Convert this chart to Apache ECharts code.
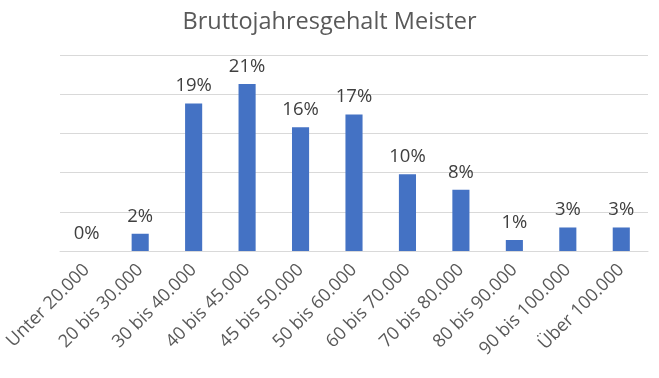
<!DOCTYPE html>
<html>
<head>
<meta charset="utf-8">
<script src="https://cdn.jsdelivr.net/npm/echarts@6/dist/echarts.min.js"></script>
<style>
  html, body {margin: 0; padding: 0; background: #fff;}
  #chart {width: 659px; height: 378px;}
</style>
</head>
<body>
<div id="chart"></div>
<script>
// Gehaltsklassen (Euro brutto / Jahr)
var categories = ['Unter 20.000', '20 bis 30.000', '30 bis 40.000', '40 bis 45.000', '45 bis 50.000',
  '50 bis 60.000', '60 bis 70.000', '70 bis 80.000', '80 bis 90.000', '90 bis 100.000', 'Über 100.000'];
// Anteil in Prozent
var shares = [0, 2.2, 18.8, 21.3, 15.8, 17.4, 9.8, 7.8, 1.4, 3.0, 3.0];

var titleText = 'Bruttojahresgehalt Meister';

var chart = echarts.init(document.getElementById('chart'));

var option = {
  animation: false,
  textStyle: {fontFamily: 'Open Sans'},
  title: {
    text: titleText,
    left: 'center',
    top: 5,
    textStyle: {fontFamily: 'Open Sans', fontSize: 23.5, fontWeight: 'normal', color: '#595959'}
  },
  grid: {left: 60, right: 11, top: 55, bottom: 127, containLabel: false},
  xAxis: {
    type: 'category',
    data: categories,
    axisLine: {lineStyle: {color: '#D9D9D9'}},
    axisTick: {show: false},
    axisLabel: {rotate: 45, margin: 16, fontSize: 18, color: '#595959', interval: 0}
  },
  yAxis: {
    type: 'value',
    min: 0,
    max: 25,
    interval: 5,
    axisLabel: {show: false},
    axisLine: {show: false},
    axisTick: {show: false},
    splitLine: {lineStyle: {color: '#D9D9D9'}}
  },
  series: [{
    type: 'bar',
    data: shares,
    barWidth: '32%',
    itemStyle: {color: '#4472C4'},
    label: {
      show: true,
      position: 'top',
      distance: 8,
      fontSize: 18.5,
      color: '#404040',
      formatter: function (p) { return Math.round(p.value) + '%'; }
    }
  }]
};

chart.setOption(option);
</script>
</body>
</html>
